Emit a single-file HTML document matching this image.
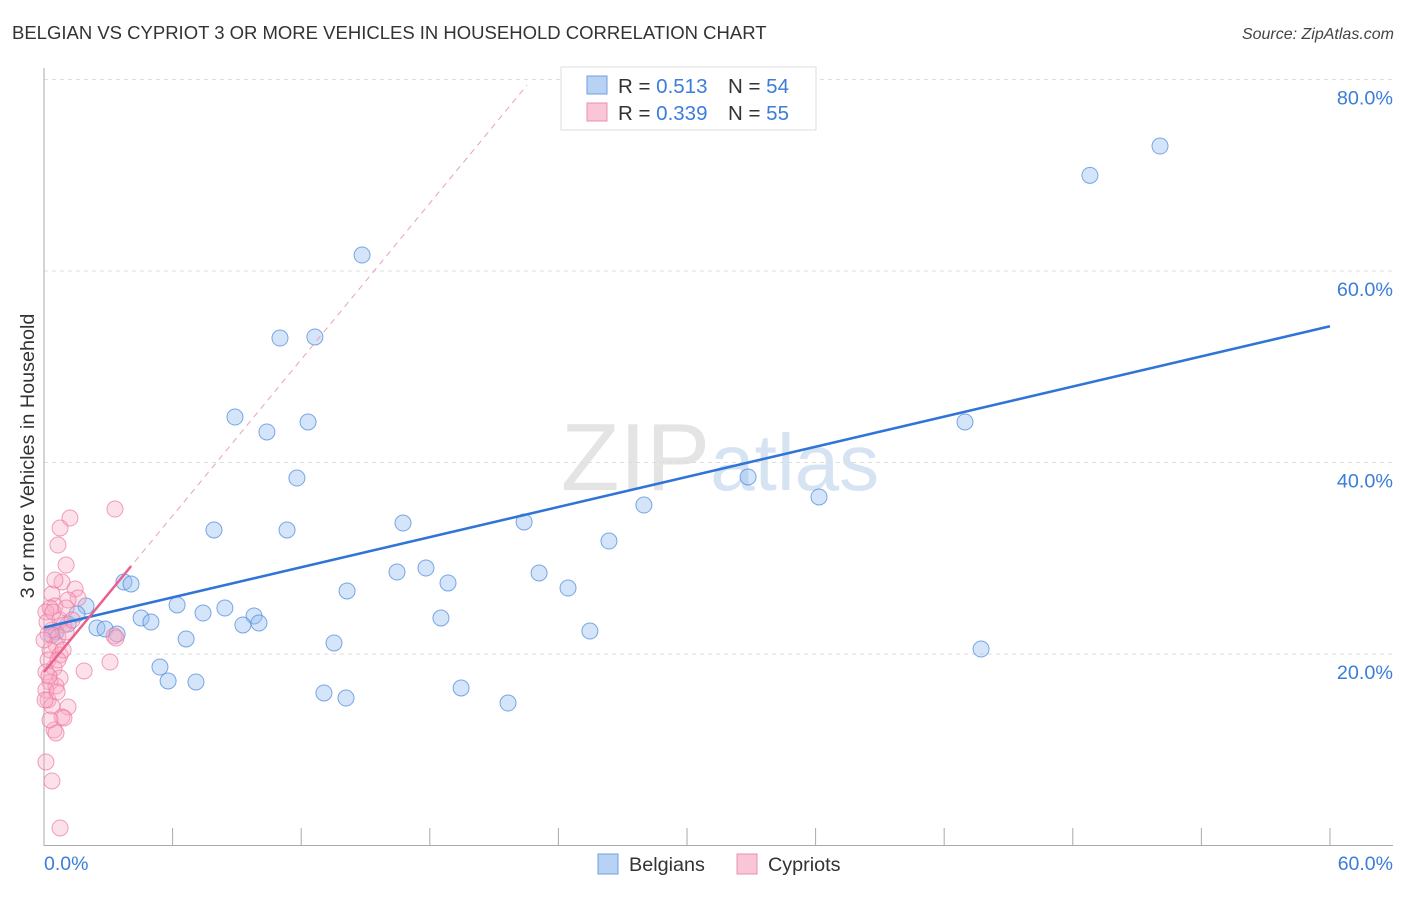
<!DOCTYPE html>
<html><head><meta charset="utf-8"><style>
body{margin:0;background:#fff;font-family:"Liberation Sans",sans-serif;}
svg text{font-family:"Liberation Sans",sans-serif;}
</style></head><body>
<svg id="chart" width="1406" height="892" xmlns="http://www.w3.org/2000/svg">
<text x="12" y="39" font-size="18.5" fill="#333">BELGIAN VS CYPRIOT 3 OR MORE VEHICLES IN HOUSEHOLD CORRELATION CHART</text>
<text x="1394" y="39" font-size="16" fill="#444" font-style="italic" text-anchor="end">Source: ZipAtlas.com</text>
<text x="720" y="490" font-size="96" fill="#e4e4e4" text-anchor="middle" font-family="Liberation Serif">ZIP<tspan fill="#d6e3f3" font-family="Liberation Sans" font-size="80">atlas</tspan></text>
<g id="grid"></g>
<g id="axes"></g>
<g id="pts"></g>
<g id="lines"></g>
<text transform="translate(34,456) rotate(-90)" font-size="19.8" fill="#333" text-anchor="middle">3 or more Vehicles in Household</text>
<text x="44" y="870" font-size="19.5" fill="#3b7dd8">0.0%</text>
<text x="1393" y="870" font-size="19.5" fill="#3b7dd8" text-anchor="end">60.0%</text>
<g>
<rect x="561" y="67" width="255" height="63" fill="#fff" stroke="#ddd"/>
<rect x="587" y="76" width="20" height="18" fill="#b8d2f3" stroke="#6f9fe0"/>
<rect x="587" y="103" width="20" height="18" fill="#f9c6d5" stroke="#ee8fae"/>
<text x="618" y="93" font-size="20.5" fill="#333">R = <tspan fill="#3b7dd8">0.513</tspan></text>
<text x="728" y="93" font-size="20.5" fill="#333">N = <tspan fill="#3b7dd8">54</tspan></text>
<text x="618" y="120" font-size="20.5" fill="#333">R = <tspan fill="#3b7dd8">0.339</tspan></text>
<text x="728" y="120" font-size="20.5" fill="#333">N = <tspan fill="#3b7dd8">55</tspan></text>
</g>
<g>
<rect x="598" y="854" width="20" height="20" fill="#b8d2f3" stroke="#6f9fe0"/>
<text x="629" y="871" font-size="19.8" fill="#333">Belgians</text>
<rect x="737" y="854" width="20" height="20" fill="#f9c6d5" stroke="#ee8fae"/>
<text x="768" y="871" font-size="19.8" fill="#333">Cypriots</text>
</g>
</svg>
<script>
const yTicks=[20,40,60,80];
const yTickLabels=["20.0%","40.0%","60.0%","80.0%"];
const xTicks=[0,6,12,18,24,30,36,42,48,54,60];
const belgX=[52.07,48.80,14.84,11.01,12.64,8.91,10.40,12.32,42.97,11.80,32.85,36.16,27.99,7.93,11.34,16.75,22.40,26.36,3.73,4.06,16.47,17.82,18.85,23.10,24.45,14.14,1.96,6.21,4.53,4.99,7.42,8.44,9.80,9.28,10.03,18.52,25.47,1.54,1.12,2.47,2.85,3.41,6.63,13.53,43.72,5.41,5.79,7.09,13.06,14.09,19.46,21.65,0.56,0.37];
const belgY=[73.05,69.99,61.67,53.0,53.11,44.75,43.19,44.23,44.23,38.38,38.49,36.40,35.56,32.95,32.95,33.68,33.79,31.80,27.52,27.31,28.56,28.98,27.42,28.46,26.89,26.58,25.01,25.12,23.76,23.34,24.28,24.80,23.97,23.03,23.24,23.76,22.40,24.18,23.13,22.72,22.61,22.09,21.57,21.15,20.52,18.64,17.18,17.08,15.93,15.40,16.45,14.88,22.30,21.98];
const cypX=[3.31,1.21,0.75,0.65,1.03,0.84,1.45,1.59,0.37,0.51,0.28,1.12,0.09,0.75,0.93,0.37,0.19,0.65,1.03,3.27,3.36,0.56,0.28,0.75,0.19,3.08,1.87,0.47,0.09,0.75,0.28,0.56,0.09,0.19,0.37,1.12,0.84,0.93,0.47,0.56,0.09,0.37,0.75,0,0.14,0.42,0.61,0.23,0.89,0.05,0.65,1.03,1.31,0.51,0.28];
const cypY=[35.14,34.20,33.16,31.38,29.29,27.52,26.79,25.85,26.27,25.01,24.80,25.64,24.39,23.55,23.03,22.51,22.09,21.78,22.30,21.88,21.67,20.94,20.42,19.90,19.37,19.16,18.23,18.54,18.12,17.49,17.08,16.66,16.24,15.20,14.57,14.46,13.42,13.32,12.06,11.75,8.72,6.74,1.83,21.46,23.34,24.39,16.03,17.70,20.42,15.20,19.37,24.80,23.55,27.73,13.11];
const belgTrend=[22.77,0.5243];
const cypTrend=[18.12,2.72];
const NS="http://www.w3.org/2000/svg";
const X=v=>44+v*21.433, Y=v=>845.5-v*9.575;
function mk(t,a,p){const e=document.createElementNS(NS,t);for(const k in a)e.setAttribute(k,a[k]);document.getElementById(p).appendChild(e);return e;}
yTicks.forEach((t,i)=>{
 const l=mk('line',{x1:44,x2:1393,y1:Y(t),y2:Y(t),stroke:'#ddd','stroke-dasharray':'4,4'},'grid');
 
 
 const tx=mk('text',{x:1393,y:Y(t)+25,'font-size':19.8,fill:'#3b7dd8','text-anchor':'end'},'grid');
 tx.textContent=yTickLabels[i];
 
 
});
const ya=mk('line',{x1:44,x2:44,y1:68,y2:846,stroke:'#aaa'},'axes');


const xa=mk('line',{x1:44,x2:1393,y1:845.5,y2:845.5,stroke:'#aaa'},'axes');


xTicks.forEach(t=>{
 const l=mk('line',{x1:X(t),x2:X(t),y1:828,y2:845,stroke:'#aaa'},'axes');
 
 
});
belgX.forEach((v,i)=>{
 const c=mk('circle',{cx:X(v),cy:Y(belgY[i]),r:8,fill:'rgba(150,190,240,0.4)',stroke:'rgba(80,140,220,0.75)','stroke-width':1},'pts');
 
 
});
cypX.forEach((v,i)=>{
 const c=mk('circle',{cx:X(v),cy:Y(cypY[i]),r:8,fill:'rgba(248,170,195,0.35)',stroke:'rgba(235,120,160,0.7)','stroke-width':1},'pts');
 
 
});
const bl=mk('line',{x1:X(0),y1:Y(belgTrend[0]),x2:X(60),y2:Y(belgTrend[0]+60*belgTrend[1]),stroke:'#2f74d6','stroke-width':2.5},'lines');


const xEnd=(79.4-cypTrend[0])/cypTrend[1];
const cd=mk('line',{x1:X(0),y1:Y(cypTrend[0]),x2:X(xEnd),y2:Y(79.4),stroke:'#eaa0b8','stroke-width':1,'stroke-dasharray':'6,5'},'lines');


const cl=mk('line',{x1:X(0),y1:Y(cypTrend[0]),x2:X(4.06),y2:Y(cypTrend[0]+4.06*cypTrend[1]),stroke:'#e8608c','stroke-width':2.5},'lines');


</script>
</body></html>
